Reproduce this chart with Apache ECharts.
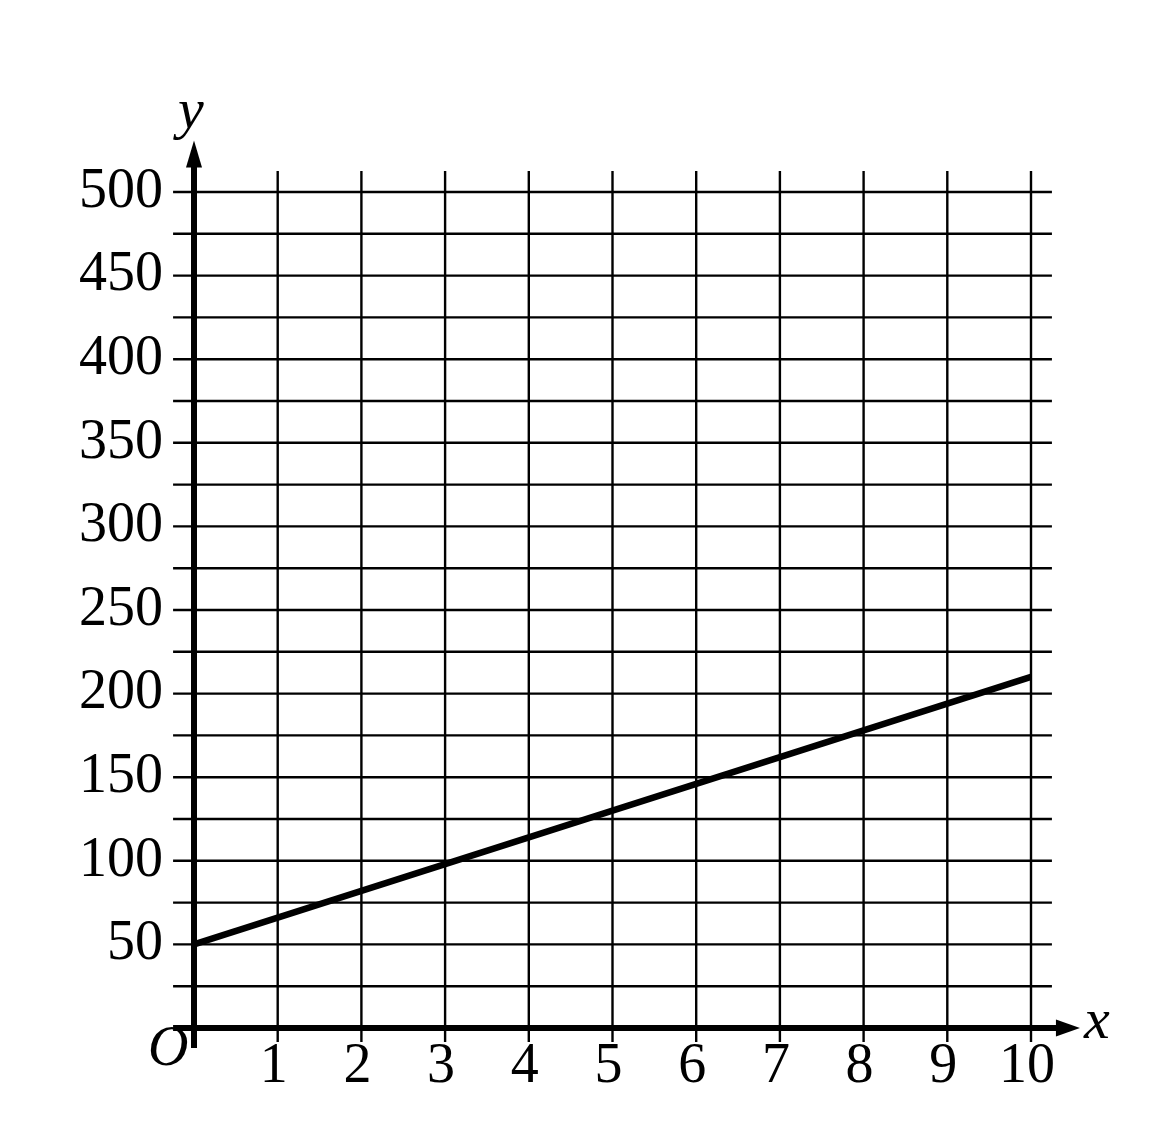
<!DOCTYPE html>
<html>
<head>
<meta charset="utf-8">
<script src="https://cdn.jsdelivr.net/npm/echarts@6/dist/echarts.min.js"></script>
<style>html,body{margin:0;padding:0;background:#fff;}#c{width:1156px;height:1146px;}</style>
</head>
<body>
<div id="c"></div>
<script>
// ---- data ----
var xTickLabels = [1, 2, 3, 4, 5, 6, 7, 8, 9, 10];
var yTickLabels = [50, 100, 150, 200, 250, 300, 350, 400, 450, 500];
var xGridValues = [1, 2, 3, 4, 5, 6, 7, 8, 9, 10];
var yGridValues = [25, 50, 75, 100, 125, 150, 175, 200, 225, 250, 275, 300, 325, 350, 375, 400, 425, 450, 475, 500];
var lineX = [0, 10];
var lineY = [50, 210];

var FONT = '"Liberation Serif", "DejaVu Serif", serif';
var chart = echarts.init(document.getElementById('c'));

function seg(api, a, b, w) {
  var p1 = api.coord(a), p2 = api.coord(b);
  return { type: 'line', shape: { x1: p1[0], y1: p1[1], x2: p2[0], y2: p2[1] },
           style: { stroke: '#000', lineWidth: w } };
}

var option = {
  backgroundColor: '#fff',
  animation: false,
  grid: { left: 194, right: 125, top: 192, bottom: 118, containLabel: false },
  xAxis: {
    type: 'value', min: 0, max: 10, interval: 1,
    axisLine: { show: false }, axisTick: { show: false }, splitLine: { show: false },
    axisLabel: {
      show: true, margin: 11, color: '#000', fontFamily: FONT, fontSize: 56,
      padding: [0, 8, 0, 0],
      formatter: function (v) { return xTickLabels.indexOf(v) >= 0 ? String(v) : ''; }
    }
  },
  yAxis: {
    type: 'value', min: 0, max: 500, interval: 50,
    axisLine: { show: false }, axisTick: { show: false }, splitLine: { show: false },
    axisLabel: {
      show: true, margin: 31, color: '#000', fontFamily: FONT, fontSize: 56,
      formatter: function (v) { return yTickLabels.indexOf(v) >= 0 ? String(v) : ''; }
    }
  },
  graphic: [
    { type: 'text', left: 178, top: 84, style: { text: 'y', font: 'italic 58px ' + FONT, fill: '#000' } },
    { type: 'text', left: 1084, top: 994, style: { text: 'x', font: 'italic 58px ' + FONT, fill: '#000' } },
    { type: 'text', left: 148, top: 1022, style: { text: 'O', font: 'italic 56px ' + FONT, fill: '#000' } }
  ],
  series: [
    {
      type: 'custom', silent: true, clip: false, z: 1,
      data: xGridValues.map(function (v) { return [v, 0]; }),
      renderItem: function (params, api) {
        var x = api.value(0);
        return seg(api, [x, -8.4], [x, 512.5], 2.4);
      }
    },
    {
      type: 'custom', silent: true, clip: false, z: 1,
      data: yGridValues.map(function (v) { return [0, v]; }),
      renderItem: function (params, api) {
        var y = api.value(1);
        return seg(api, [-0.25, y], [10.25, y], 2.4);
      }
    },
    {
      type: 'custom', silent: true, clip: false, z: 3,
      data: [[0, 0]],
      renderItem: function (params, api) {
        var o = api.coord([0, 0]);
        var xEnd = api.coord([10.585, 0]);
        var yEnd = api.coord([0, 530.8]);
        var xStart = api.coord([-0.25, 0]);
        var yStart = api.coord([0, -12]);
        return {
          type: 'group',
          children: [
            { type: 'line', shape: { x1: xStart[0], y1: o[1], x2: xEnd[0] - 10, y2: o[1] }, style: { stroke: '#000', lineWidth: 6 } },
            { type: 'line', shape: { x1: o[0], y1: yStart[1], x2: o[0], y2: yEnd[1] + 10 }, style: { stroke: '#000', lineWidth: 6 } },
            { type: 'polygon', shape: { points: [[xEnd[0], o[1]], [xEnd[0] - 24, o[1] - 8.5], [xEnd[0] - 24, o[1] + 8.5]] }, style: { fill: '#000' } },
            { type: 'polygon', shape: { points: [[o[0], yEnd[1]], [o[0] - 8, yEnd[1] + 27], [o[0] + 8, yEnd[1] + 27]] }, style: { fill: '#000' } }
          ]
        };
      }
    },
    {
      type: 'line', z: 4, clip: false,
      data: lineX.map(function (x, i) { return [x, lineY[i]]; }),
      showSymbol: false, symbol: 'none',
      lineStyle: { color: '#000', width: 6.5 }
    }
  ]
};
chart.setOption(option);
</script>
</body>
</html>
